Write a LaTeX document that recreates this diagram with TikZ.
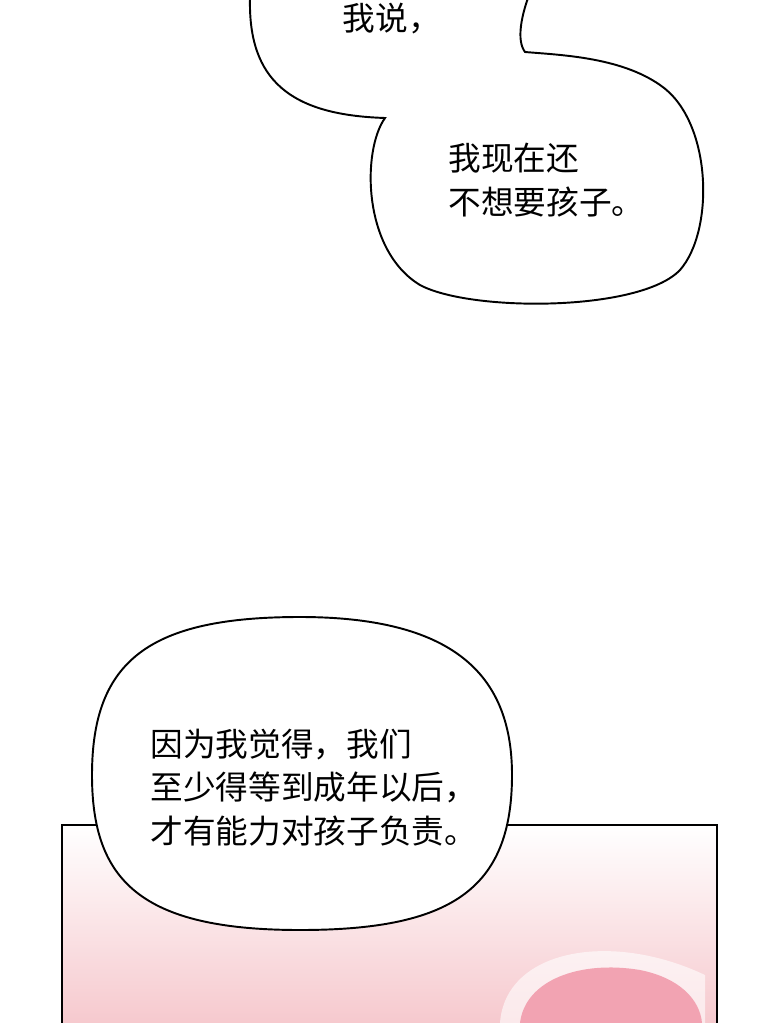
\documentclass[tikz,border=0pt]{standalone}
\usepackage{fontspec}
\newfontfamily\cjk{Noto Sans CJK SC}
\definecolor{panelpink}{HTML}{F6C9CE}
\definecolor{hairpink}{HTML}{F2A3B2}
\tikzset{
  bubble/.style={draw=black, fill=white, line width=1.1pt},
  talk/.style={font=\cjk\fontsize{18.6}{24.6}\selectfont, align=left, inner sep=0pt}
}
\begin{document}
\begin{tikzpicture}[x=0.02cm, y=-0.02cm]
\useasboundingbox (0,0) rectangle (760,1023);

% panel at the bottom
\shade [top color=white, bottom color=panelpink] (62,825) rectangle (717,1023);
\fill [white, opacity=0.6] (500,1023) .. controls (505,950) and (610,930) .. (705,975) -- (705,1023) -- cycle;
\fill [hairpink] (520,1023) .. controls (525,980) and (580,960) .. (640,970) .. controls (680,978) and (700,1000) .. (702,1023) -- cycle;
\draw [line width=1.1pt] (62,1023) -- (62,825) -- (717,825) -- (717,1023);

%%%%%%%%%%%%%%%%%%%%%%%%%%%%%%%%%%%%%%%%

\path [bubble]
     (250,-2)
  .. controls (248,80) and (290,115) .. (385,118)
  .. controls (362,150) and (362,250) .. (420,285)
  .. controls (470,312) and (640,312) .. (680,270)
  .. controls (715,230) and (712,120) .. (660,85)
  .. controls (620,57) and (560,55) .. (525,52)
  .. controls (516,40) and (522,15) .. (528,-2);
\node [talk, anchor=north] (say) at (392,3) {我说，};
\node [talk, anchor=north west] (want) at (448,143) {我现在还\\不想要孩子。};

\path [bubble]
     (300,617)
  .. controls (460,617) and (512,680) .. (512,775)
  .. controls (512,890) and (450,930) .. (300,930)
  .. controls (140,930) and (92,880) .. (92,775)
  .. controls (92,660) and (150,617) .. (300,617) -- cycle;
\node [talk, anchor=north west] (because) at (150,729) {因为我觉得，我们\\至少得等到成年以后，\\才有能力对孩子负责。};
\end{tikzpicture}
\end{document}
